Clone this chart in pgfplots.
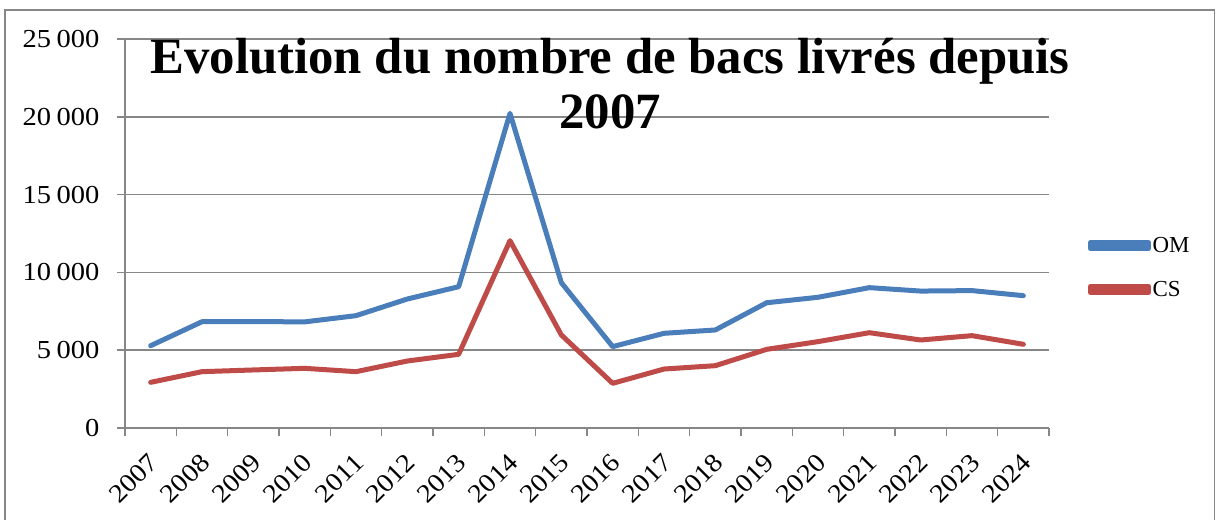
\documentclass[border=0pt]{standalone}
\usepackage{fontspec}
\setmainfont{Liberation Serif}
\newfontfamily\tickfont[FakeStretch=1.1]{Liberation Serif}
\usepackage{pgfplots}
\pgfplotsset{compat=1.18}
\definecolor{omblue}{HTML}{4A7EBB}
\definecolor{csred}{HTML}{BE4B48}
\definecolor{gridgray}{HTML}{878787}
\begin{document}
\begin{tikzpicture}
\path[use as bounding box] (0,0) rectangle (1216bp,520bp);
\draw[gridgray, line width=1.6bp] (5bp,-10bp) rectangle (1214.5bp,510bp);
\begin{axis}[
  at={(125bp,92bp)}, anchor=south west,
  scale only axis, width=924bp, height=389bp,
  xmin=-0.5, xmax=17.5, ymin=0, ymax=25000,
  axis x line*=bottom, axis y line*=left,
  axis line style={gridgray, line width=1.5bp, -},
  xtick={0,...,17},
  xticklabels={2007,2008,2009,2010,2011,2012,2013,2014,2015,2016,2017,2018,2019,2020,2021,2022,2023,2024},
  major x tick style={draw=none},
  minor xtick={-0.5,0.5,...,17.5},
  minor tick length=8bp, major tick length=8bp,
  tick align=outside,
  tick style={gridgray, line width=1.5bp},
  ytick={0,5000,...,25000},
  scaled y ticks=false,
  ymajorgrids, grid style={gridgray, line width=1.5bp},
  /pgf/number format/1000 sep={\hspace{0.22em}},
  /pgf/number format/assume math mode=true,
  ticklabel style={font=\tickfont\fontsize{26}{30}\selectfont},
  yticklabel style={xshift=-14bp},
  xticklabel style={yshift=-16bp, xshift=-3bp, rotate=45, anchor=north east, inner sep=0pt},
  title={Evolution du nombre de bacs livrés depuis\\2007},
  title style={font=\fontsize{51}{55}\selectfont\bfseries, align=center,
    at={(rel axis cs:0.525,1)}, anchor=north, inner sep=0pt, yshift=-5bp},
  legend style={at={(rel axis cs:1.042,0.4126)}, anchor=west, draw=none, fill=none,
    font=\fontsize{23}{27}\selectfont, row sep=24bp, inner sep=0pt,
    nodes={inner sep=1.5bp}},
  legend cell align=left,
  legend image code/.code={\path (0bp,-3bp) rectangle (58bp,3bp);
    \draw[#1, line width=5bp, line cap=round] (2.5bp,0bp) -- (55bp,0bp);},
]
\addplot[omblue, line width=5bp, line join=round, line cap=round] coordinates {
(0,5290) (1,6830) (2,6840) (3,6820) (4,7220) (5,8290) (6,9080) (7,20220) (8,9340)
(9,5230) (10,6085) (11,6300) (12,8050) (13,8400) (14,9020) (15,8800) (16,8830) (17,8505)};
\addlegendentry{OM}
\addplot[csred, line width=5bp, line join=round, line cap=round] coordinates {
(0,2935) (1,3620) (2,3730) (3,3835) (4,3620) (5,4305) (6,4735) (7,12040) (8,5980)
(9,2870) (10,3790) (11,4005) (12,5055) (13,5550) (14,6125) (15,5655) (16,5935) (17,5380)};
\addlegendentry{CS}
\end{axis}
\end{tikzpicture}
\end{document}
